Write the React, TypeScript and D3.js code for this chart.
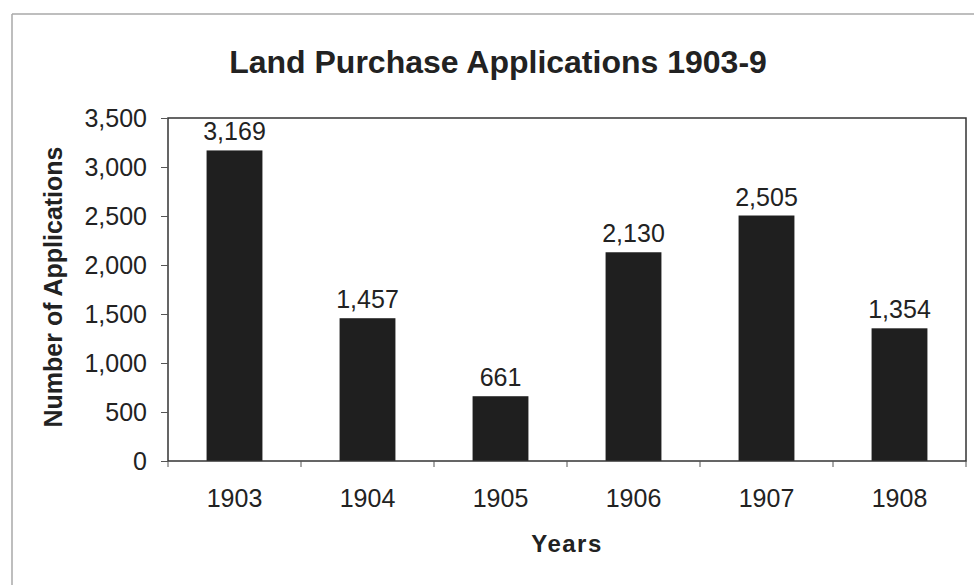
import React, { useEffect, useRef } from "react";
import * as d3 from "d3";

const years = ["1903", "1904", "1905", "1906", "1907", "1908"];
const applications = [3169, 1457, 661, 2130, 2505, 1354];
const yTicks = [0, 500, 1000, 1500, 2000, 2500, 3000, 3500];

const FONT = "'Liberation Sans', Arial, sans-serif";

const App: React.FC = () => {
  const ref = useRef<SVGSVGElement | null>(null);

  useEffect(() => {
    const svgWidth = 974;
    const svgHeight = 585;
    const plot = { left: 168, right: 966, top: 118, bottom: 461 };

    const svg = d3.select(ref.current);
    svg.selectAll("*").remove();
    svg.attr("width", svgWidth).attr("height", svgHeight);

    svg
      .append("rect")
      .attr("width", svgWidth)
      .attr("height", svgHeight)
      .attr("fill", "#fff");

    // frame from the scanned page
    svg
      .append("line")
      .attr("x1", 12)
      .attr("y1", 14)
      .attr("x2", svgWidth)
      .attr("y2", 14)
      .attr("stroke", "#a8a8a8")
      .attr("stroke-width", 1.5);
    svg
      .append("line")
      .attr("x1", 12)
      .attr("y1", 14)
      .attr("x2", 12)
      .attr("y2", svgHeight)
      .attr("stroke", "#a8a8a8")
      .attr("stroke-width", 1.5);

    const xScale = d3
      .scaleBand()
      .domain(years)
      .range([plot.left, plot.right])
      .paddingInner(0.58)
      .paddingOuter(0.29);

    const yScale = d3
      .scaleLinear()
      .domain([0, 3500])
      .range([plot.bottom, plot.top]);

    // bars
    svg
      .selectAll("rect.bar")
      .data(applications)
      .enter()
      .append("rect")
      .attr("class", "bar")
      .attr("x", (d, i) => xScale(years[i]) as number)
      .attr("y", (d) => yScale(d))
      .attr("width", xScale.bandwidth())
      .attr("height", (d) => plot.bottom - yScale(d))
      .attr("fill", "#1f1f1f");

    // value labels
    svg
      .selectAll("text.value")
      .data(applications)
      .enter()
      .append("text")
      .attr("class", "value")
      .attr("x", (d, i) => (xScale(years[i]) as number) + xScale.bandwidth() / 2)
      .attr("y", (d) => yScale(d) - 10)
      .attr("text-anchor", "middle")
      .attr("font-family", FONT)
      .attr("font-size", 25)
      .attr("fill", "#222")
      .text((d) => d3.format(",")(d));

    // plot border
    svg
      .append("rect")
      .attr("x", plot.left)
      .attr("y", plot.top)
      .attr("width", plot.right - plot.left)
      .attr("height", plot.bottom - plot.top)
      .attr("fill", "none")
      .attr("stroke", "#333")
      .attr("stroke-width", 1.5);

    // y axis
    const yAxis = svg
      .append("g")
      .attr("transform", `translate(${plot.left},0)`)
      .call(
        d3
          .axisLeft(yScale)
          .tickValues(yTicks)
          .tickSize(7)
          .tickPadding(14)
          .tickFormat((d) => d3.format(",")(d as number))
      );
    yAxis.select(".domain").remove();
    yAxis.selectAll("line").attr("stroke", "#555");
    yAxis
      .selectAll("text")
      .attr("font-family", FONT)
      .attr("font-size", 25)
      .attr("fill", "#222");

    // x axis: ticks between categories
    const boundaries = d3.range(years.length + 1).map(
      (i) => plot.left + (i * (plot.right - plot.left)) / years.length
    );
    svg
      .selectAll("line.xtick")
      .data(boundaries)
      .enter()
      .append("line")
      .attr("class", "xtick")
      .attr("x1", (d) => d)
      .attr("x2", (d) => d)
      .attr("y1", plot.bottom)
      .attr("y2", plot.bottom + 6)
      .attr("stroke", "#555");

    svg
      .selectAll("text.xlabel")
      .data(years)
      .enter()
      .append("text")
      .attr("class", "xlabel")
      .attr("x", (d) => (xScale(d) as number) + xScale.bandwidth() / 2)
      .attr("y", 507)
      .attr("text-anchor", "middle")
      .attr("font-family", FONT)
      .attr("font-size", 25)
      .attr("fill", "#222")
      .text((d) => d);

    // titles
    svg
      .append("text")
      .attr("x", 498)
      .attr("y", 73)
      .attr("text-anchor", "middle")
      .attr("font-family", FONT)
      .attr("font-weight", "bold")
      .attr("font-size", 32)
      .attr("fill", "#222")
      .text("Land Purchase Applications 1903-9");

    svg
      .append("text")
      .attr("transform", `translate(62,287) rotate(-90)`)
      .attr("text-anchor", "middle")
      .attr("font-family", FONT)
      .attr("font-weight", "bold")
      .attr("font-size", 25)
      .attr("fill", "#222")
      .text("Number of Applications");

    svg
      .append("text")
      .attr("x", (plot.left + plot.right) / 2)
      .attr("y", 552)
      .attr("text-anchor", "middle")
      .attr("font-family", FONT)
      .attr("font-weight", "bold")
      .attr("font-size", 24)
      .attr("letter-spacing", 1.5)
      .attr("fill", "#222")
      .text("Years");
  }, []);

  return (
    <svg
      ref={ref}
      style={{ position: "absolute", left: 0, top: 0, display: "block" }}
    />
  );
};

export default App;
